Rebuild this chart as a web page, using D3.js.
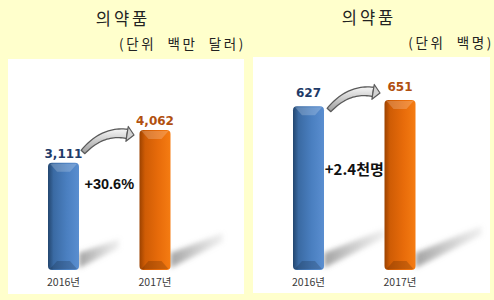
<!DOCTYPE html>
<html>
<head>
<meta charset="utf-8">
<script src="https://cdn.jsdelivr.net/npm/d3@7"></script>
<style>
    html, body { margin: 0; padding: 0; background: #FFFFCC; }
    svg { display: block; }
</style>
</head>
<body>
<svg id="chart" width="494" height="300"></svg>
<script>
// data
var years = ["2016년", "2017년"];
var salesValues = [3111, 4062];     // 단위: 백만 달러
var staffValues = [627, 651];       // 단위: 백명
var panelTitles = ["의약품", "의약품"];
var panelUnits = ["(단위  백만  달러)", "(단위  백명)"];
var changeLabels = ["+30.6%", "+2.4천명"];
var valueLabels = [["3,111", "4,062"], ["627", "651"]];

var svg = d3.select("#chart");
var defs = svg.append("defs");

// gradients for the bars
function barGradient(id, stops) {
    var g = defs.append("linearGradient").attr("id", id)
        .attr("x1", "0%").attr("x2", "100%").attr("y1", "0%").attr("y2", "0%");
    stops.forEach(function (s) {
        g.append("stop").attr("offset", s[0]).attr("stop-color", s[1]);
    });
}
barGradient("gBlue", [["0%", "#23466f"], ["18%", "#3a6aa3"], ["60%", "#4a7fc0"], ["100%", "#5a8ed0"]]);
barGradient("gOrange", [["0%", "#9c4200"], ["18%", "#cf5c05"], ["60%", "#e76b0a"], ["100%", "#f57c12"]]);

var arrowGrad = defs.append("linearGradient").attr("id", "gArrow")
    .attr("x1", "0%").attr("x2", "0%").attr("y1", "0%").attr("y2", "100%");
arrowGrad.append("stop").attr("offset", "0%").attr("stop-color", "#f6f6f6");
arrowGrad.append("stop").attr("offset", "100%").attr("stop-color", "#9d9d9d");

var shadowGrad = defs.append("linearGradient").attr("id", "gShadow")
    .attr("x1", "0%").attr("x2", "100%").attr("y1", "0%").attr("y2", "0%");
shadowGrad.append("stop").attr("offset", "0%").attr("stop-color", "#8a8a8a").attr("stop-opacity", 0.8);
shadowGrad.append("stop").attr("offset", "100%").attr("stop-color", "#b0b0b0").attr("stop-opacity", 0.2);

defs.append("filter").attr("id", "blur").attr("x", "-30%").attr("y", "-30%")
    .attr("width", "160%").attr("height", "160%")
    .append("feGaussianBlur").attr("stdDeviation", 2.5);

var panels = [
    { values: salesValues, box: [8, 59, 236, 235], x: [63.5, 155], top: 130,
      labelGap: 5, changeY: 189, changeSize: 14.5, shadow: [40, 52],
      arrow: [83, 152, 134, 135], titleX: 123, titleY: 25, unitX: 246, unitY: 49, unitSpacing: 2.6 },
    { values: staffValues, box: [253, 57, 237, 236], x: [308.5, 400], top: 100,
      labelGap: 9, changeY: 175, changeSize: 15, shadow: [60, 66],
      arrow: [329, 110, 380, 93], titleX: 369, titleY: 24, unitX: 494, unitY: 48, unitSpacing: 2.6 }
];

var baseY = 270, barW = 31;
var fills = ["url(#gBlue)", "url(#gOrange)"];
var labelColors = ["#1f3b68", "#b1500f"];

panels.forEach(function (p, i) {
    var g = svg.append("g");

    // white panel
    g.append("rect")
        .attr("x", p.box[0]).attr("y", p.box[1])
        .attr("width", p.box[2]).attr("height", p.box[3])
        .attr("fill", "#ffffff");

    // titles
    g.append("text")
        .attr("x", p.titleX).attr("y", p.titleY)
        .attr("text-anchor", "middle")
        .attr("font-family", "'Noto Sans CJK KR', sans-serif")
        .attr("font-size", 16.5).attr("letter-spacing", 3)
        .attr("fill", "#222")
        .text(panelTitles[i]);
    g.append("text")
        .attr("x", p.unitX).attr("y", p.unitY)
        .attr("text-anchor", "end")
        .attr("font-family", "'Noto Sans CJK KR', sans-serif")
        .attr("font-size", 13.5).attr("letter-spacing", p.unitSpacing)
        .attr("fill", "#222")
        .style("white-space", "pre")
        .text(panelUnits[i]);

    var x = d3.scaleOrdinal().domain(years).range(p.x);
    var y = d3.scaleLinear().domain([0, d3.max(p.values)]).range([baseY, p.top]);

    // shadows
    g.selectAll(".shadow")
        .data(p.values)
        .enter()
        .append("polygon")
        .attr("class", "shadow")
        .attr("fill", "url(#gShadow)")
        .attr("filter", "url(#blur)")
        .attr("points", function (d, j) {
            var x0 = x(years[j]) + barW / 2, len = p.shadow[j];
            var b = baseY - 2, rise = len * 0.5;
            return [[x0, b], [x0 + len, b - rise], [x0 + len, b - rise - 9], [x0, b - 15]].join(" ");
        });

    // bars
    var bars = g.selectAll(".bar")
        .data(p.values)
        .enter()
        .append("g")
        .attr("class", "bar");

    bars.append("rect")
        .attr("x", function (d, j) { return x(years[j]) - barW / 2; })
        .attr("y", function (d) { return y(d); })
        .attr("width", barW)
        .attr("height", function (d) { return baseY - y(d); })
        .attr("rx", 4)
        .attr("fill", function (d, j) { return fills[j]; });

    // top and bottom bevels
    bars.append("polygon")
        .attr("fill", "#ffffff").attr("opacity", 0.2)
        .attr("points", function (d, j) {
            var l = x(years[j]) - barW / 2 + 2, r = l + barW - 4, t = y(d) + 1;
            return [[l, t], [r, t], [r - 7, t + 8], [l + 7, t + 8]].join(" ");
        });
    bars.append("polygon")
        .attr("fill", "#000000").attr("opacity", 0.16)
        .attr("points", function (d, j) {
            var l = x(years[j]) - barW / 2 + 2, r = l + barW - 4, b = baseY - 1;
            return [[l, b], [r, b], [r - 7, b - 8], [l + 7, b - 8]].join(" ");
        });

    // value labels
    g.selectAll(".val")
        .data(p.values)
        .enter()
        .append("text")
        .attr("class", "val")
        .attr("x", function (d, j) { return x(years[j]); })
        .attr("y", function (d) { return y(d) - p.labelGap; })
        .attr("text-anchor", "middle")
        .attr("font-family", "'DejaVu Sans', sans-serif")
        .attr("font-weight", "bold")
        .attr("font-size", 12)
        .attr("fill", function (d, j) { return labelColors[j]; })
        .text(function (d, j) { return valueLabels[i][j]; });

    // year labels
    g.selectAll(".year")
        .data(years)
        .enter()
        .append("text")
        .attr("class", "year")
        .attr("x", function (d) { return x(d); })
        .attr("y", 286)
        .attr("text-anchor", "middle")
        .attr("font-family", "'Noto Sans CJK KR', sans-serif")
        .attr("font-size", 10.5)
        .attr("fill", "#3a3a3a")
        .text(function (d) { return d; });

    // curved arrow: a tapering ribbon along a quadratic curve, then a head
    var a = p.arrow;
    var cx = (a[0] + a[2]) / 2 - 6, cy = Math.min(a[1], a[3]) - 5;
    var headLen = 7;
    var tdx = a[2] - cx, tdy = a[3] - cy, tl = Math.sqrt(tdx * tdx + tdy * tdy);
    var ux = tdx / tl, uy = tdy / tl;
    var ex = a[2] - ux * headLen, ey = a[3] - uy * headLen;
    var n = 24, left = [], right = [];
    for (var k = 0; k <= n; k++) {
        var t = k / n, mt = 1 - t;
        var px = mt * mt * a[0] + 2 * mt * t * cx + t * t * ex;
        var py = mt * mt * a[1] + 2 * mt * t * cy + t * t * ey;
        var dx = 2 * mt * (cx - a[0]) + 2 * t * (ex - cx);
        var dy = 2 * mt * (cy - a[1]) + 2 * t * (ey - cy);
        var dl = Math.sqrt(dx * dx + dy * dy);
        var w = 2.5 + 2.2 * t;
        left.push([px - dy / dl * w, py + dx / dl * w]);
        right.push([px + dy / dl * w, py - dx / dl * w]);
    }
    var ribbon = left.concat(right.reverse());
    g.append("path")
        .attr("d", "M" + ribbon.join("L") + "Z")
        .attr("fill", "url(#gArrow)").attr("stroke", "#5a5a5a").attr("stroke-width", 1.3)
        .attr("stroke-linejoin", "round");
    var nx = -uy, ny = ux;
    g.append("polygon")
        .attr("points", [[ex + nx * 7.5, ey + ny * 7.5], [a[2], a[3]], [ex - nx * 7.5, ey - ny * 7.5]].join(" "))
        .attr("fill", "#d2d2d2").attr("stroke", "#5a5a5a").attr("stroke-width", 1.2)
        .attr("stroke-linejoin", "round");

    // change label
    g.append("text")
        .attr("x", (p.x[0] + p.x[1]) / 2)
        .attr("y", p.changeY)
        .attr("text-anchor", "middle")
        .attr("font-family", i === 0 ? "'Liberation Sans', sans-serif" : "'Noto Sans CJK KR', sans-serif")
        .attr("font-weight", "bold")
        .attr("font-size", p.changeSize)
        .attr("fill", "#111")
        .text(changeLabels[i]);
});
</script>
</body>
</html>
